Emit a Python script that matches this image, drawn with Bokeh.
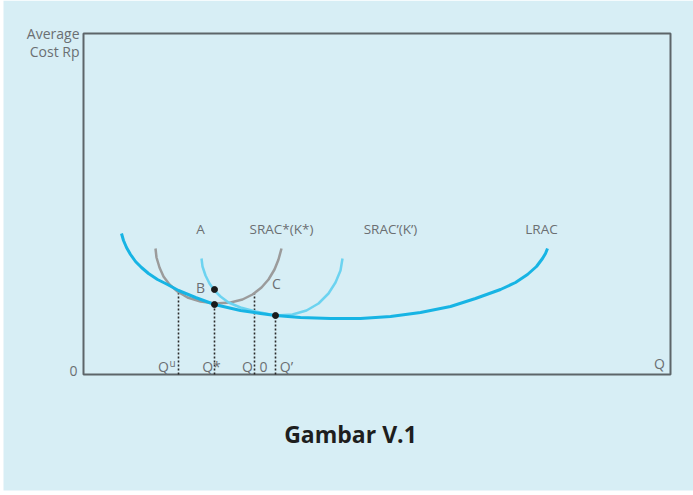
from bokeh.plotting import figure
from bokeh.models import Range1d
from bokeh.core.properties import value
from bokeh.embed import file_html
from bokeh.resources import INLINE

# ---- data (Q, average cost) ----
lrac_q = [38, 40, 43, 47, 52, 58, 65, 74, 84, 95, 112, 131, 157, 177, 192, 217, 247, 277, 307, 337, 367, 392, 417, 432, 444, 453, 459, 462, 464]
lrac_c = [141, 134, 127, 120, 113, 107, 101, 95, 90, 84, 77, 70, 64, 61, 59, 57, 56, 56, 58, 62, 68, 76, 85, 92, 100, 108, 116, 121, 126]

srac_a_q = [72, 73, 76, 80, 86, 94, 104, 117, 132, 147, 159, 169, 178, 185, 191, 195, 198]
srac_a_c = [126, 117, 107, 98, 90, 83, 77, 73, 71, 72, 75, 80, 87, 95, 105, 115, 126]

srac_k_q = [118, 119, 122, 126, 131, 137, 145, 157, 172, 192, 209, 223, 235, 245, 252, 257, 259]
srac_k_c = [116, 108, 99, 91, 84, 78, 72, 67, 63, 59, 60, 64, 71, 81, 92, 104, 116]

dot_q = [131, 131, 192]
dot_c = [85, 70, 59]

drop_q = [95, 131, 171, 192]
drop_c = [84, 70, 81, 59]

curve_labels = ["A", "SRAC*(K*)", "SRAC\u2019(K\u2019)", "LRAC"]
curve_label_q = [117, 198, 307, 458]
point_labels = ["B", "C"]
q_labels = ["Q", "Q*", "Q", "0", "Q\u2019"]
q_label_pos = [80, 128, 164, 180, 203]

FONT = "Open Sans"
TXT = "#6b6f72"

p = figure(width=693, height=495, output_backend="svg", toolbar_location=None,
           x_range=Range1d(-83, 610), y_range=Range1d(-121, 374),
           min_border=0, outline_line_color=None)
p.axis.visible = False
p.grid.visible = False
p.background_fill_color = "white"
p.border_fill_color = "white"

# light blue panel
p.quad(left=[-80], right=[610], bottom=[-116], top=[374], fill_color="#d7eef5", line_color=None)
# axes box
p.quad(left=[0], right=[587], bottom=[0], top=[341], fill_color=None, line_color="#5d6569", line_width=2)

# drop lines
for q, c in zip(drop_q, drop_c):
    p.line([q, q], [0, c], line_color="#2a2a2a", line_width=1.6, line_dash="2 2")

p.line(srac_a_q, srac_a_c, line_color="#9b9b9b", line_width=2.5, line_join="round")
p.line(srac_k_q, srac_k_c, line_color="#6cd3f0", line_width=2.5, line_join="round")
p.line(lrac_q, lrac_c, line_color="#17b4e4", line_width=3, line_join="round")

p.scatter(dot_q, dot_c, size=6, color="#1a1a1a")

def txt(x, y, t, size="14px", align="center", baseline="middle", color=TXT, style="normal"):
    p.text(x=[x], y=[y], text=[t], text_font=value(FONT), text_font_size=size,
           text_align=align, text_baseline=baseline, text_color=color, text_font_style=style)

for t, q in zip(curve_labels, curve_label_q):
    txt(q, 146, t, size="13.5px")
txt(117, 87, point_labels[0])
txt(193, 91, point_labels[1])

for t, q in zip(q_labels, q_label_pos):
    txt(q, 8, t)
txt(89, 12, "u", size="10px")

txt(-10, 4, "0")
txt(576, 11, "Q")
txt(-4, 341, "Average", align="right")
txt(-4, 323, "Cost Rp", align="right")
txt(267, -59, "Gambar V.1", size="23px", color="#1e1e1e", style="bold")

open("out.html", "w").write(file_html(p, INLINE))
